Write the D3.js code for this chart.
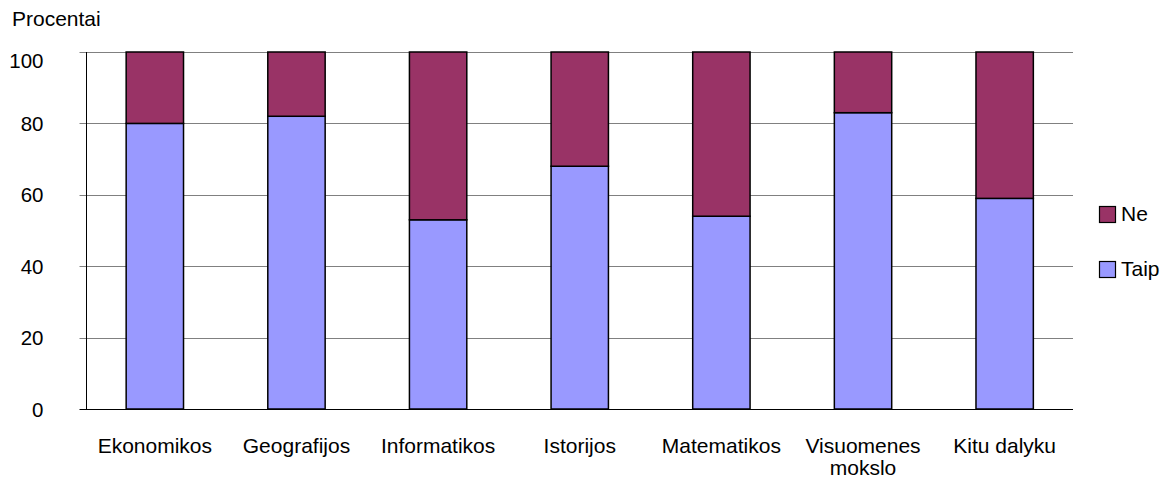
<!DOCTYPE html>
<html><head><meta charset="utf-8">
<script src="https://cdn.jsdelivr.net/npm/d3@7"></script>
<style>body{margin:0;background:#fff}text{font-family:"Liberation Sans",Arial,sans-serif;fill:#000}</style>
</head><body>
<svg id="c" width="1173" height="480"></svg>
<script>
const categories = [["Ekonomikos"],["Geografijos"],["Informatikos"],["Istorijos"],["Matematikos"],["Visuomenes","mokslo"],["Kitu dalyku"]];
const taip = [80, 82, 53, 68, 54, 83, 59];
const ne = [20, 18, 47, 32, 46, 17, 41];
const yTicks = [0, 20, 40, 60, 80, 100];

const svg = d3.select("#c");
const L = 86.5, R = 1073, T = 52, B = 409;
const x = d3.scaleBand().domain(d3.range(categories.length)).range([L, R]).paddingInner(0.595).paddingOuter(0.28);
const y = d3.scaleLinear().domain([0, 100]).range([B, T]);

// gridlines
svg.append("g").selectAll("line").data(yTicks).join("line")
  .attr("x1", L - 7).attr("x2", R).attr("y1", d => Math.round(y(d)) + 0.5).attr("y2", d => Math.round(y(d)) + 0.5)
  .attr("stroke", d => d === 0 ? "#000" : "#808080").attr("stroke-width", 1);

// y axis line
svg.append("line").attr("x1", L).attr("x2", L).attr("y1", T).attr("y2", B + 0.5).attr("stroke", "#000");

// tick labels (top label is nudged down to stay inside the area)
svg.append("g").selectAll("text").data(yTicks).join("text")
  .attr("x", 43.5).attr("y", d => d === 100 ? y(d) + 16 : y(d) + 7.5)
  .attr("text-anchor", "end").attr("font-size", 20.5).text(d => d);

// bars
const g = svg.append("g");
g.selectAll(".taip").data(taip).join("rect")
  .attr("x", (d, i) => x(i)).attr("width", x.bandwidth())
  .attr("y", d => y(d)).attr("height", d => y(0) - y(d))
  .attr("fill", "#9999FF").attr("stroke", "#000").attr("stroke-width", 1.5);
g.selectAll(".ne").data(ne).join("rect")
  .attr("x", (d, i) => x(i)).attr("width", x.bandwidth())
  .attr("y", (d, i) => y(taip[i] + d)).attr("height", (d, i) => y(taip[i]) - y(taip[i] + d))
  .attr("fill", "#993366").attr("stroke", "#000").attr("stroke-width", 1.5);

// category labels
const cl = svg.append("g").selectAll("text").data(categories).join("text")
  .attr("x", (d, i) => x(i) + x.bandwidth() / 2).attr("y", 453).attr("text-anchor", "middle").attr("font-size", 21);
cl.selectAll("tspan").data(d => d).join("tspan")
  .attr("x", function () { return d3.select(this.parentNode).attr("x"); })
  .attr("dy", (d, j) => j === 0 ? 0 : 22).text(d => d);

// y title
svg.append("text").attr("x", 12).attr("y", 26).attr("font-size", 21).text("Procentai");

// legend
const legend = [["Ne", "#993366", 214.5], ["Taip", "#9999FF", 269.5]];
const lg = svg.append("g").selectAll("g").data(legend).join("g");
lg.append("rect").attr("x", 1099.5).attr("y", d => d[2] - 8).attr("width", 16).attr("height", 16)
  .attr("fill", d => d[1]).attr("stroke", "#000").attr("stroke-width", 1.2);
lg.append("text").attr("x", 1121).attr("y", d => d[2] + 6.5).attr("font-size", 21).text(d => d[0]);
</script>
</body></html>
